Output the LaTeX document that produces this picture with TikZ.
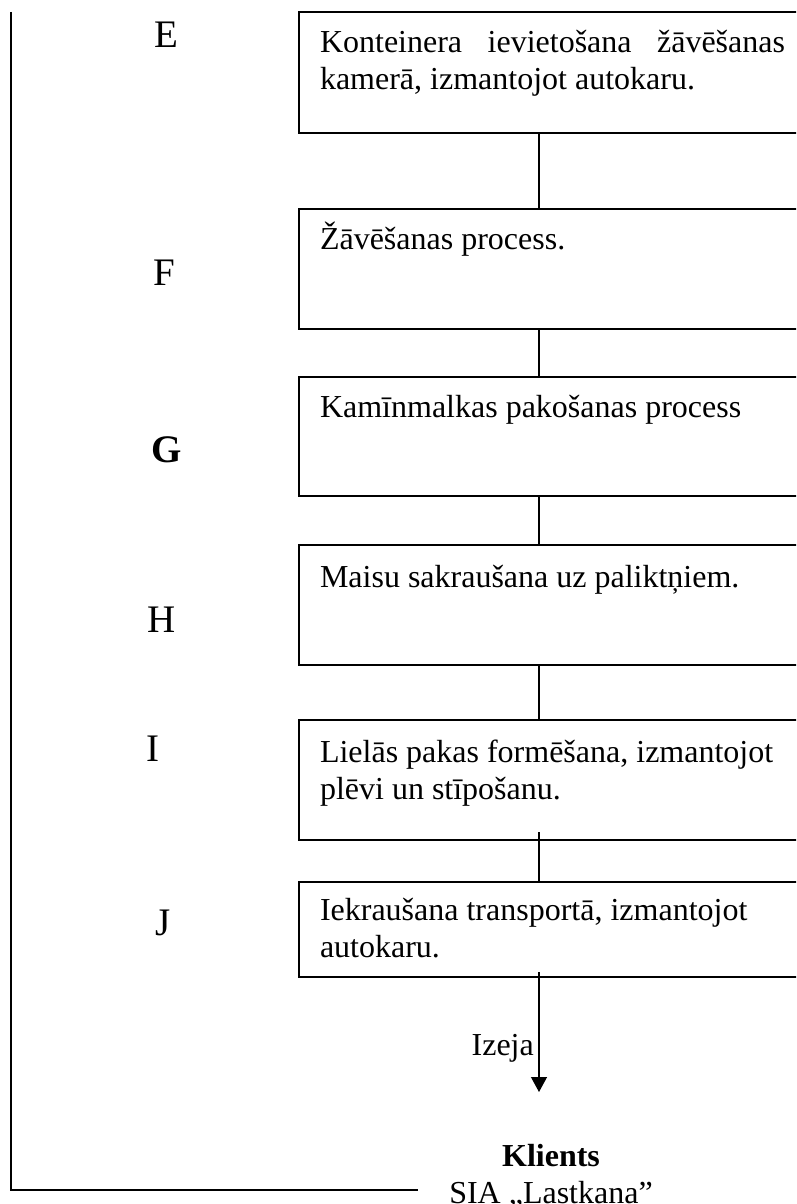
\documentclass[tikz,border=0pt]{standalone}
\usepackage{fontspec}
\setmainfont{Liberation Serif}
\usetikzlibrary{arrows.meta,calc}
\begin{document}
\begin{tikzpicture}[x=1pt,y=-1pt,
  stepbox/.style={draw, line width=1.8pt, rectangle, inner sep=0pt, outer sep=0pt,
    minimum width=511pt, anchor=north west},
  boxtext/.style={anchor=base west, inner sep=0pt, outer sep=0pt,
    font=\fontsize{32}{37}\selectfont},
  letter/.style={anchor=base, inner sep=0pt, font=\fontsize{39}{44}\selectfont},
  conn/.style={line width=1.2pt},
  frame/.style={line width=1.8pt},
  arr/.style={line width=1.2pt, -{Triangle[length=15pt,width=16pt]}},
  plain/.style={anchor=base, inner sep=0pt, font=\fontsize{32}{37}\selectfont}]
\useasboundingbox (0,0) rectangle (796,1204);
\clip (0,0) rectangle (796,1204);

% boxes
\node[stepbox, minimum height=121pt] (b1) at (299,12) {};
\node[stepbox, minimum height=120pt] (b2) at (299,209) {};
\node[stepbox, minimum height=119pt] (b3) at (299,377) {};
\node[stepbox, minimum height=120pt] (b4) at (299,545) {};
\node[stepbox, minimum height=120pt] (b5) at (299,720) {};
\node[stepbox, minimum height=95pt] (b6) at (299,882) {};

% box texts
\node[boxtext] (t1) at (320,53) {\parbox[t]{465pt}{Konteinera ievietošana žāvēšanas\linebreak kamerā, izmantojot autokaru.}};
\node[boxtext] (t2) at (320,249) {Žāvēšanas process.};
\node[boxtext] (t3) at (320,417) {Kamīnmalkas pakošanas process};
\node[boxtext] (t4) at (320,587) {Maisu sakraušana uz paliktņiem.};
\node[boxtext] (t5) at (320,762) {\parbox[t]{465pt}{\raggedright Lielās pakas formēšana, izmantojot\\ plēvi un stīpošanu.}};
\node[boxtext] (t6) at (320,920) {\parbox[t]{465pt}{\raggedright Iekraušana transportā, izmantojot\\ autokaru.}};

% letters
\node[letter] (lE) at (166,48) {E};
\node[letter] (lF) at (164,285) {F};
\node[letter] (lG) at (167,462) {\textbf{G}};
\node[letter] (lH) at (162,632) {H};
\node[letter] (lI) at (153,761) {I};
\node[letter] (lJ) at (163,935) {J};

% connectors
\coordinate (cx) at (539,0);
\coordinate (bend) at (539,162);
\draw[conn] (b1.south -| cx) -- (bend);
\draw[line width=2.2pt] (bend) -- (b2.north -| cx);
\draw[conn] (b2.south -| cx) -- (b3.north -| cx);
\draw[conn] (b3.south -| cx) -- (b4.north -| cx);
\draw[conn] (b4.south -| cx) -- (b5.north -| cx);
\draw[conn] ($(b5.south -| cx)+(0,-8)$) -- (b6.north -| cx);
\coordinate (aend) at (539,1092);
\draw[arr] ($(b6.south -| cx)+(0,-5)$) -- (aend);
\node[plain, anchor=base east] (iz) at (534,1055) {Izeja};

% client
\node[plain] (kl) at (551,1166) {\textbf{Klients}};
\node[plain] (sia) at (551,1203) {SIA „Lastkana”};

% feedback frame line
\coordinate (ft) at (11,12);
\coordinate (fb) at (11,1190);
\coordinate (fe) at (418,1190);
\draw[frame] (ft) -- (fb) -- (fe);
\end{tikzpicture}
\end{document}
